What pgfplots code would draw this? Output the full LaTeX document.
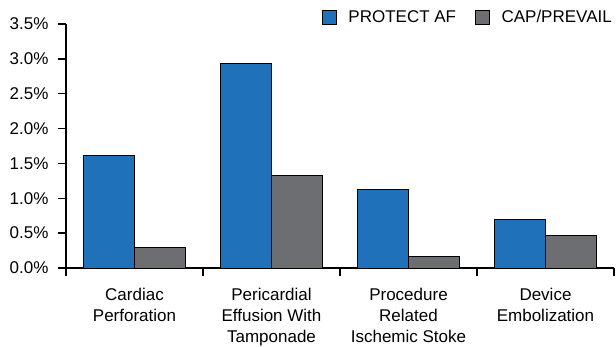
\documentclass[border=0pt]{standalone}
\usepackage{fontspec}
\setmainfont{Liberation Sans}
\usepackage{pgfplots}
\pgfplotsset{compat=1.18}
\definecolor{protectblue}{RGB}{31,114,186}
\definecolor{capgray}{RGB}{109,110,113}

\newcommand{\chartfont}{\fontsize{17}{21}\selectfont}

\pgfplotsset{
  square legend/.style={
    legend image code/.code={
      \draw[##1,line width=0.9pt,draw=black] (0pt,-7pt) rectangle (14pt,7pt);
      \path[draw=none,fill=none] (14pt,0pt) -- (24pt,0pt);
    }
  }
}

\begin{document}
\begin{tikzpicture}[x=1pt,y=1pt]
\path[use as bounding box] (-66pt,-78pt) rectangle (550pt,268pt);
\begin{axis}[
  at={(0pt,0pt)}, anchor=south west,
  scale only axis,
  width=548pt, height=244pt,
  font=\chartfont,
  ybar,
  bar width=0.372,
  xmin=-0.5, xmax=3.5,
  ymin=0, ymax=3.5,
  axis x line*=bottom,
  axis y line*=left,
  axis line style={line width=1.4pt,-},
  tick style={line width=1.4pt,black},
  tick align=outside,
  major tick length=8pt,
  ytick={0,0.5,1,1.5,2,2.5,3,3.5},
  yticklabel={\pgfmathprintnumber[fixed,fixed zerofill,precision=1]{\tick}\%},
  /pgf/number format/assume math mode=true,
  yticklabel style={font=\chartfont, xshift=-6pt},
  % category boundaries carry the ticks; names sit between them
  xtick={-0.5,0.5,1.5,2.5,3.5},
  xticklabels={,,,,},
  extra x ticks={0,1,2,3},
  extra x tick labels={{Cardiac\\Perforation},{Pericardial\\Effusion With\\Tamponade},{Procedure\\Related\\Ischemic Stoke},{Device\\Embolization}},
  extra x tick style={
    tick style={draw=none},
    xticklabel style={font=\chartfont, align=center, yshift=-9pt},
  },
  legend columns=2,
  legend style={
    draw=none, fill=none,
    at={(1,1.028)}, anchor=east,
    inner sep=0pt,
    font=\chartfont,
    /tikz/every even column/.append style={column sep=17pt},
  },
]
\addplot[fill=protectblue, draw=black, line width=0.9pt, bar shift=-0.186, square legend]
  coordinates {(0,1.61) (1,2.93) (2,1.12) (3,0.70)};
\addplot[fill=capgray, draw=black, line width=0.9pt, bar shift=0.186, square legend]
  coordinates {(0,0.29) (1,1.33) (2,0.17) (3,0.46)};
\legend{PROTECT AF,CAP/PREVAIL}
\end{axis}
\end{tikzpicture}
\end{document}
